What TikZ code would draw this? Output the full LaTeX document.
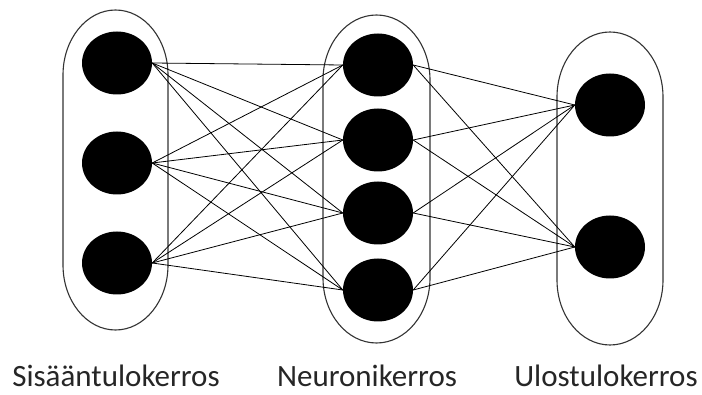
\documentclass[tikz,border=0pt]{standalone}
\usepackage{fontspec}
\setmainfont{Carlito}
\usetikzlibrary{shapes.geometric}
\begin{document}
\begin{tikzpicture}[x=1pt,y=-1pt,
  neuron/.style={ellipse,fill=black,draw=none,minimum width=70pt,minimum height=63pt,inner sep=0pt},
  layerbox/.style={draw=black!80,line width=1.1pt},
  link/.style={line width=0.8pt,black},
  lab/.style={font=\fontsize{31}{36}\selectfont,text=black!85,anchor=base,inner sep=0pt}]
\useasboundingbox (0,0) rectangle (702,395);
% layer boxes (stadiums with elliptical ends)
\draw[layerbox] (63,75) arc[start angle=180,end angle=360,x radius=52.5,y radius=65]
  -- (168,265) arc[start angle=0,end angle=180,x radius=52.5,y radius=65] -- cycle;
\draw[layerbox] (323,80) arc[start angle=180,end angle=360,x radius=53.5,y radius=65]
  -- (430,278) arc[start angle=0,end angle=180,x radius=53.5,y radius=65] -- cycle;
\draw[layerbox] (557,97) arc[start angle=180,end angle=360,x radius=53,y radius=65]
  -- (663,280) arc[start angle=0,end angle=180,x radius=53,y radius=65] -- cycle;
% neurons
\node[neuron] (i1) at (117,63) {};
\node[neuron] (i2) at (117,163) {};
\node[neuron] (i3) at (117,263) {};
\node[neuron] (h1) at (378,65) {};
\node[neuron] (h2) at (378,140) {};
\node[neuron] (h3) at (378,213) {};
\node[neuron] (h4) at (378,290) {};
\node[neuron] (o1) at (610,105) {};
\node[neuron] (o2) at (610,247) {};
% links
\foreach \i in {1,2,3}{
  \foreach \h in {1,2,3,4}{
    \draw[link] (i\i.east) -- (h\h.west);
  }
}
\foreach \h in {1,2,3,4}{
  \foreach \o in {1,2}{
    \draw[link] (h\h.east) -- (o\o.west);
  }
}
% labels
\node[lab] (t1) at (116,387) {Sisääntulokerros};
\node[lab] (t2) at (367,387) {Neuronikerros};
\node[lab] (t3) at (606,387) {Ulostulokerros};
\end{tikzpicture}
\end{document}
